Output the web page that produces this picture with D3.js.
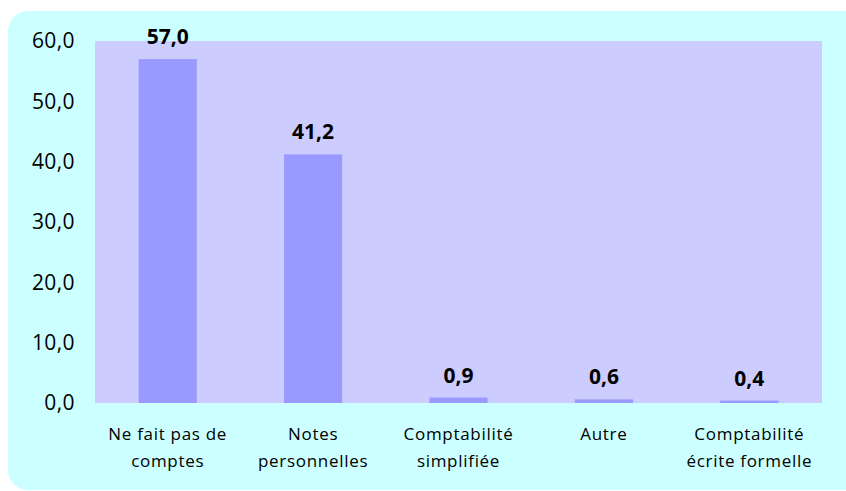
<!DOCTYPE html>
<html><head><meta charset="utf-8">
<script src="https://cdn.jsdelivr.net/npm/d3@7"></script>
<style>html,body{margin:0;padding:0;background:#fff;}svg{display:block;}</style>
</head><body>
<script>
const categories = [["Ne fait pas de","comptes"],["Notes","personnelles"],["Comptabilité","simplifiée"],["Autre"],["Comptabilité","écrite formelle"]];
const values = [57.0, 41.2, 0.9, 0.6, 0.4];
const valueLabels = ["57,0","41,2","0,9","0,6","0,4"];
const yTicks = [0,10,20,30,40,50,60];
const yTickLabels = ["0,0","10,0","20,0","30,0","40,0","50,0","60,0"];

const W = 846, H = 491;
const m = {left:95, right:24, top:41, bottom:88};
const svg = d3.select("body").append("svg").attr("width",W).attr("height",H);

svg.append("rect").attr("x",8).attr("y",11).attr("width",860).attr("height",479)
  .attr("rx",20).attr("ry",20).attr("fill","#ccffff");

const x = d3.scaleBand().domain(d3.range(categories.length)).range([m.left, W-m.right]).paddingInner(0.6).paddingOuter(0.3);
const y = d3.scaleLinear().domain([0,60]).range([H-m.bottom, m.top]);

svg.append("rect").attr("x",m.left).attr("y",m.top).attr("width",W-m.right-m.left).attr("height",y(0)-m.top).attr("fill","#ccccff");

svg.selectAll("rect.bar").data(values).enter().append("rect").attr("class","bar")
  .attr("x",(d,i)=>x(i)).attr("width",x.bandwidth())
  .attr("y",d=>y(d)).attr("height",d=>y(0)-y(d)).attr("fill","#9999ff");

svg.selectAll("text.val").data(values).enter().append("text").attr("class","val")
  .attr("x",(d,i)=>x(i)+x.bandwidth()/2).attr("y",d=>y(d)-15)
  .attr("text-anchor","middle").attr("font-family","Open Sans").attr("font-weight","bold")
  .attr("font-size",21).attr("fill","#000").text((d,i)=>valueLabels[i]);

const yAxis = d3.axisLeft(y).tickValues(yTicks).tickFormat((d,i)=>yTickLabels[i]).tickSize(0).tickPadding(20);
const ya = svg.append("g").attr("transform",`translate(${m.left},0)`).call(yAxis);
ya.select(".domain").remove();
ya.selectAll("text").attr("font-family","Open Sans").attr("font-size",21).attr("letter-spacing","0.4px").attr("fill","#000");

const xa = svg.append("g");
categories.forEach((lines,i)=>{
  const t = xa.append("text").attr("x",x(i)+x.bandwidth()/2).attr("y",440)
    .attr("text-anchor","middle").attr("font-family","Open Sans").attr("font-size",17)
    .attr("letter-spacing","0.7px").attr("fill","#000");
  lines.forEach((l,j)=>t.append("tspan").attr("x",x(i)+x.bandwidth()/2).attr("dy",j===0?0:27).text(l));
});
</script>
</body></html>
